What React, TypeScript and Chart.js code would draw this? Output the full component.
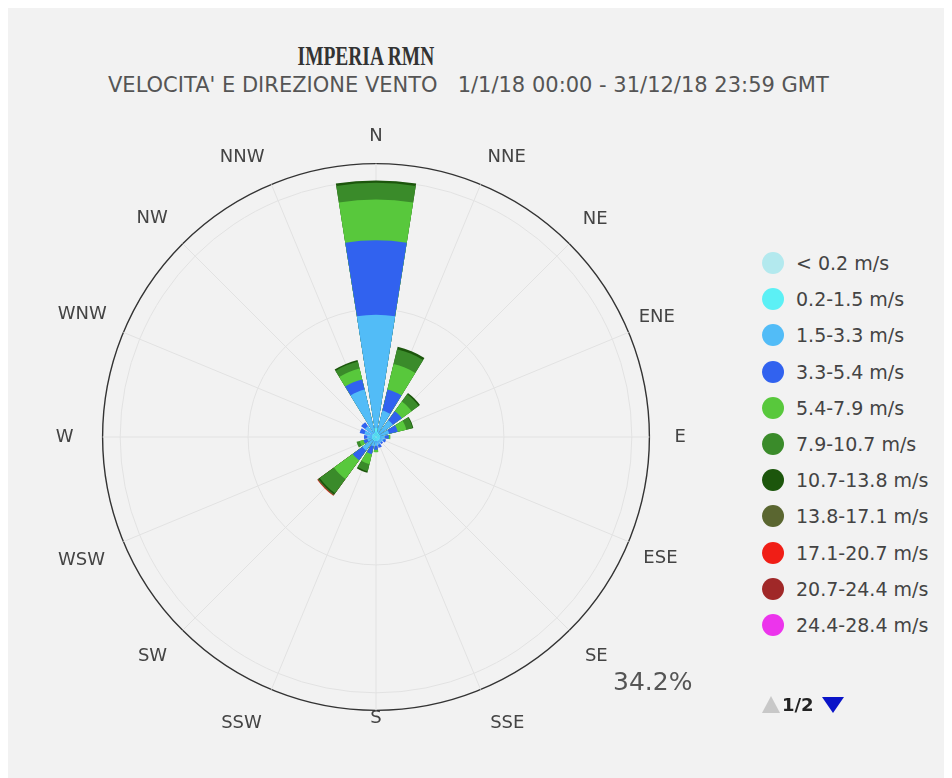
import React, { useEffect, useRef } from "react";
import { Chart, registerables } from "chart.js";

Chart.register(...registerables);

// ---- data ----
const DIRECTIONS = ["N", "NNE", "NE", "ENE", "E", "ESE", "SE", "SSE", "S", "SSW", "SW", "WSW", "W", "WNW", "NW", "NNW"];
const SPEED_CLASSES = [
  "< 0.2 m/s", "0.2-1.5 m/s", "1.5-3.3 m/s", "3.3-5.4 m/s", "5.4-7.9 m/s", "7.9-10.7 m/s",
  "10.7-13.8 m/s", "13.8-17.1 m/s", "17.1-20.7 m/s", "20.7-24.4 m/s", "24.4-28.4 m/s",
];
const COLORS = [
  "#b3e9ee", "#5cf0f5", "#52bcf7", "#3162ef", "#58c83c", "#3a8b2a",
  "#1c560c", "#5a6630", "#f01e16", "#a02828", "#ec34ec",
];

// percentage of time per direction (N ... NNW)
const SPD_LT_02 = [0.1, 0.1, 0.1, 0.1, 0.1, 0.1, 0.1, 0.1, 0.1, 0.1, 0.1, 0.1, 0.1, 0.1, 0.1, 0.1];
const SPD_02_15 = [1.0, 0.5, 0.4, 0.4, 0.4, 0.4, 0.4, 0.4, 0.4, 0.4, 0.4, 0.4, 0.4, 0.4, 0.4, 0.4];
const SPD_15_33 = [14.2, 2.8, 2.1, 1.2, 0.6, 0.5, 0.4, 0.5, 0.6, 0.7, 1.6, 0.6, 0.6, 1.0, 1.2, 5.6];
const SPD_33_54 = [9.3, 2.7, 1.4, 1.1, 0.5, 0.3, 0.2, 0.4, 0.5, 1.0, 1.5, 0.5, 0.4, 0.6, 0.6, 1.3];
const SPD_54_79 = [5.1, 3.3, 1.5, 1.1, 0.2, 0, 0, 0, 0.3, 1.3, 2.9, 0.5, 0, 0, 0, 1.4];
const SPD_79_107 = [2.1, 1.9, 1.1, 0.8, 0, 0, 0, 0, 0, 0.9, 2.2, 0.4, 0, 0, 0, 0.9];
const SPD_107_138 = [0.3, 0.3, 0.2, 0.1, 0, 0, 0, 0, 0, 0.2, 0.2, 0, 0, 0, 0, 0.2];
const SPD_138_171 = [0, 0, 0, 0, 0, 0, 0, 0, 0, 0, 0.13, 0, 0, 0, 0, 0];
const SPD_171_207 = [0, 0, 0, 0, 0, 0, 0, 0, 0, 0, 0.06, 0, 0, 0, 0, 0];
const SPD_207_244 = [0, 0, 0, 0, 0, 0, 0, 0, 0, 0, 0, 0, 0, 0, 0, 0];
const SPD_244_284 = [0, 0, 0, 0, 0, 0, 0, 0, 0, 0, 0, 0, 0, 0, 0, 0];

const SERIES = [
  SPD_LT_02, SPD_02_15, SPD_15_33, SPD_33_54, SPD_54_79, SPD_79_107,
  SPD_107_138, SPD_138_171, SPD_171_207, SPD_207_244, SPD_244_284,
];

const AXIS_MAX = 34.2;
const RING_TICKS = [0, 16, 32, 34.2];
const MAX_LABEL = "34.2%";
const TITLE = "IMPERIA RMN";
const SUBTITLE = "VELOCITA' E DIREZIONE VENTO   1/1/18 00:00 - 31/12/18 23:59 GMT";
const PAGER = "1/2";

// distance of each direction label from the outer ring (N ... NNW)
const LABEL_PAD = [16, 18, 19, 11, 25, 16, 22, 25, -3, 25, 22, 20, 29, 18, 21, 18];

const BAR_DEG = 18; // angular width of each direction bar

function buildDatasets() {
  const n = DIRECTIONS.length;
  const sector = 360 / n;
  // element 0: invisible lead arc that rotates the start so bars are centred on their direction
  const angles: number[] = [360 - BAR_DEG / 2];
  for (let k = 0; k < n; k++) {
    angles.push(BAR_DEG, sector - BAR_DEG);
  }
  const transparent = "rgba(0,0,0,0)";
  return SERIES.map((series, s) => {
    const data: number[] = [0];
    for (let k = 0; k < n; k++) {
      let cum = 0;
      for (let j = 0; j <= s; j++) cum += SERIES[j][k];
      data.push(cum, 0);
    }
    return {
      label: SPEED_CLASSES[s],
      data,
      angle: (ctx: any) => angles[ctx.dataIndex],
      backgroundColor: (ctx: any) => {
        const i = ctx.dataIndex;
        if (i % 2 === 0) return transparent;
        const k = (i - 1) / 2;
        return series[k] > 0 ? COLORS[s] : transparent;
      },
      borderWidth: 0,
    };
  });
}

export default function App() {
  const canvasRef = useRef<HTMLCanvasElement | null>(null);

  useEffect(() => {
    if (!canvasRef.current) return;
    const chart = new Chart(canvasRef.current, {
      type: "polarArea",
      data: {
        labels: DIRECTIONS,
        datasets: buildDatasets() as any,
      },
      options: {
        responsive: false,
        animation: false,
        events: [],
        layout: { padding: 0 },
        plugins: {
          legend: { display: false },
          tooltip: { enabled: false },
          title: { display: false },
        },
        scales: {
          r: {
            min: 0,
            max: AXIS_MAX,
            startAngle: 0,
            afterBuildTicks: (scale: any) => {
              scale.ticks = RING_TICKS.map((v) => ({ value: v }));
            },
            ticks: { display: false },
            grid: {
              circular: true,
              color: (ctx: any) => (ctx.index === RING_TICKS.length - 1 ? "#333333" : "#e2e2e2"),
              lineWidth: (ctx: any) => (ctx.index === RING_TICKS.length - 1 ? 1.4 : 1),
            },
            angleLines: { display: true, color: "#e2e2e2", lineWidth: 1 },
            pointLabels: {
              display: true,
              centerPointLabels: false,
              padding: (ctx: any) => LABEL_PAD[ctx.index],
              color: "#444444",
              font: { family: "'DejaVu Sans'", size: 18 },
            },
          },
        } as any,
      },
    });
    return () => chart.destroy();
  }, []);

  return (
    <div
      style={{
        position: "relative",
        width: 944,
        height: 770,
        background: "#f2f2f2",
        fontFamily: "'DejaVu Sans', sans-serif",
        overflow: "hidden",
      }}
    >
      <div
        style={{
          position: "absolute",
          left: 0,
          top: 32,
          width: 716,
          textAlign: "center",
          lineHeight: "32px",
        }}
      >
        <span
          style={{
            display: "inline-block",
            fontFamily: "'Liberation Serif', serif",
            fontWeight: "bold",
            fontSize: 27,
            color: "#333333",
            transform: "scaleX(0.72)",
          }}
        >
          {TITLE}
        </span>
      </div>
      <div
        style={{
          position: "absolute",
          left: 100,
          top: 65,
          fontSize: 21,
          lineHeight: "24px",
          color: "#555555",
          whiteSpace: "pre",
        }}
      >
        {SUBTITLE}
      </div>

      <canvas
        ref={canvasRef}
        width={736}
        height={622}
        style={{ position: "absolute", left: 0, top: 111 }}
      />

      <div
        style={{
          position: "absolute",
          left: 605,
          top: 659,
          fontSize: 25,
          lineHeight: "30px",
          color: "#555555",
        }}
      >
        {MAX_LABEL}
      </div>

      {SPEED_CLASSES.map((name, i) => {
        const cy = 255 + 36.2 * i;
        return (
          <div key={name}>
            <div
              style={{
                position: "absolute",
                left: 754,
                top: cy - 11,
                width: 22,
                height: 22,
                borderRadius: "50%",
                background: COLORS[i],
              }}
            />
            <div
              style={{
                position: "absolute",
                left: 788,
                top: cy - 12,
                fontSize: 19,
                lineHeight: "24px",
                color: "#444444",
                whiteSpace: "pre",
              }}
            >
              {name}
            </div>
          </div>
        );
      })}

      <div
        style={{
          position: "absolute",
          left: 754,
          top: 688,
          width: 0,
          height: 0,
          borderLeft: "9px solid transparent",
          borderRight: "9px solid transparent",
          borderBottom: "17px solid #c8c8c8",
        }}
      />
      <div
        style={{
          position: "absolute",
          left: 774,
          top: 685,
          fontSize: 18,
          fontWeight: "bold",
          lineHeight: "24px",
          color: "#222222",
        }}
      >
        {PAGER}
      </div>
      <div
        style={{
          position: "absolute",
          left: 814,
          top: 689,
          width: 0,
          height: 0,
          borderLeft: "11px solid transparent",
          borderRight: "11px solid transparent",
          borderTop: "16px solid #0a14c8",
        }}
      />
    </div>
  );
}
